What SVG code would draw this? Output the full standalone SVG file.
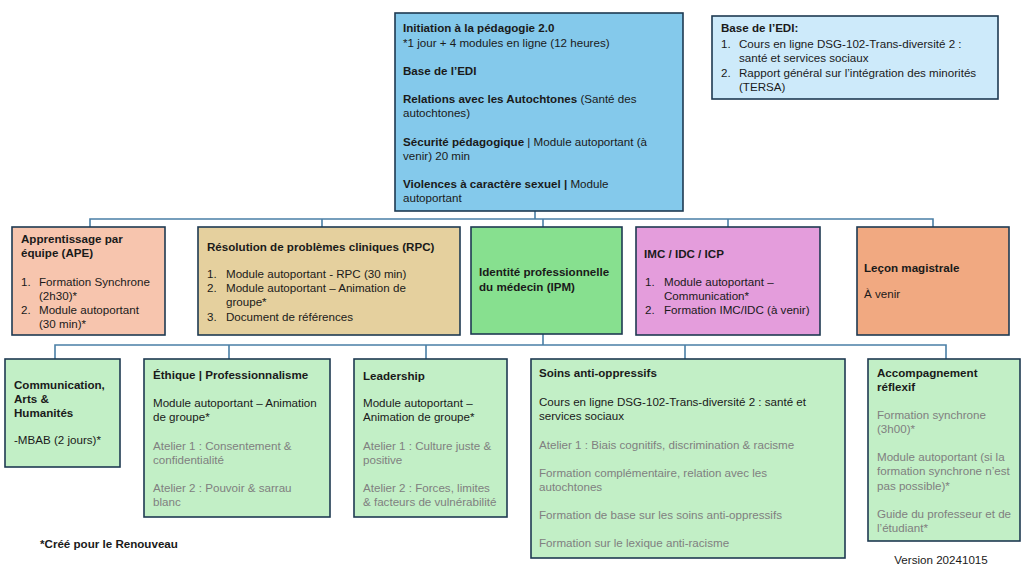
<svg xmlns="http://www.w3.org/2000/svg" width="1024" height="575" viewBox="0 0 1024 575">
<style>
text{font-family:"Liberation Sans",Arial,sans-serif;font-size:11.6px;fill:#1a1a1a}
.b{font-weight:bold}
.g{fill:#808080}
.box{stroke:#1e3a52;stroke-width:1.6}
.conn{fill:none;stroke:#4a7fa6;stroke-width:1.6}
</style>
<rect width="1024" height="575" fill="#ffffff"/>
<g id="connectors">
<path class="conn" d="M535 211V219M90 227V219H933V227M322 219V227M543 219V227M728 219V227"/>
<path class="conn" d="M543 334V345M55 359V345H946V359M229 345V359M426 345V359M685 345V359"/>
</g>
<g id="n-initiation">
<rect class="box" x="395" y="13" width="288" height="198" fill="#84c9eb"/>
<text x="403" y="32" class="b">Initiation à la pédagogie 2.0</text>
<text x="403" y="47">*1 jour + 4 modules en ligne (12 heures)</text>
<text x="403" y="75" class="b">Base de l’EDI</text>
<text x="403" y="103"><tspan class="b">Relations avec les Autochtones</tspan> (Santé des</text>
<text x="403" y="117">autochtones)</text>
<text x="403" y="146"><tspan class="b">Sécurité pédagogique</tspan> | Module autoportant (à</text>
<text x="403" y="160">venir) 20 min</text>
<text x="403" y="188"><tspan class="b">Violences à caractère sexuel |</tspan> Module</text>
<text x="403" y="202">autoportant</text>
</g>
<g id="n-edi">
<rect class="box" x="712" y="16" width="286" height="83" fill="#cdeafa"/>
<text x="721" y="32" class="b">Base de l’EDI:</text>
<text x="721" y="48">1.</text><text x="739" y="48">Cours en ligne DSG-102-Trans-diversité 2 :</text>
<text x="739" y="62">santé et services sociaux</text>
<text x="721" y="77">2.</text><text x="739" y="77">Rapport général sur l’intégration des minorités</text>
<text x="739" y="91">(TERSA)</text>
</g>
<g id="n-ape">
<rect class="box" x="12" y="227" width="153" height="108" fill="#f7c5ae"/>
<text x="21" y="243" class="b">Apprentissage par</text>
<text x="21" y="257" class="b">équipe (APE)</text>
<text x="21" y="286">1.</text><text x="39" y="286">Formation Synchrone</text>
<text x="39" y="300">(2h30)*</text>
<text x="21" y="314">2.</text><text x="39" y="314">Module autoportant</text>
<text x="39" y="328">(30 min)*</text>
</g>
<g id="n-rpc">
<rect class="box" x="198" y="227" width="262" height="108" fill="#e5d09e"/>
<text x="207" y="251" class="b">Résolution de problèmes cliniques (RPC)</text>
<text x="207" y="278">1.</text><text x="226" y="278">Module autoportant - RPC (30 min)</text>
<text x="207" y="292">2.</text><text x="226" y="292">Module autoportant – Animation de</text>
<text x="226" y="306">groupe*</text>
<text x="207" y="321">3.</text><text x="226" y="321">Document de références</text>
</g>
<g id="n-ipm">
<rect class="box" x="471" y="227" width="151" height="107" fill="#87e08f"/>
<text x="479" y="276" class="b">Identité professionnelle</text>
<text x="479" y="291" class="b">du médecin (IPM)</text>
</g>
<g id="n-imc">
<rect class="box" x="636" y="227" width="184" height="108" fill="#e49ddc"/>
<text x="644" y="258" class="b">IMC / IDC / ICP</text>
<text x="645" y="286">1.</text><text x="664" y="286">Module autoportant –</text>
<text x="664" y="300">Communication*</text>
<text x="645" y="314">2.</text><text x="664" y="314">Formation IMC/IDC (à venir)</text>
</g>
<g id="n-lecon">
<rect class="box" x="857" y="227" width="152" height="108" fill="#f1a981"/>
<text x="864" y="272" class="b">Leçon magistrale</text>
<text x="864" y="298">À venir</text>
</g>
<g id="n-comm">
<rect class="box" x="5" y="359" width="115" height="108" fill="#c2efc6"/>
<text x="14" y="389" class="b">Communication,</text>
<text x="14" y="403" class="b">Arts &amp;</text>
<text x="14" y="417" class="b">Humanités</text>
<text x="14" y="444">-MBAB (2 jours)*</text>
</g>
<g id="n-ethique">
<rect class="box" x="144" y="359" width="186" height="158" fill="#c2efc6"/>
<text x="153" y="379" class="b">Éthique | Professionnalisme</text>
<text x="153" y="407">Module autoportant – Animation</text>
<text x="153" y="421">de groupe*</text>
<text x="153" y="450" class="g">Atelier 1 : Consentement &amp;</text>
<text x="153" y="464" class="g">confidentialité</text>
<text x="153" y="492" class="g">Atelier 2 : Pouvoir &amp; sarrau</text>
<text x="153" y="506" class="g">blanc</text>
</g>
<g id="n-leadership">
<rect class="box" x="354" y="359" width="153" height="158" fill="#c2efc6"/>
<text x="363" y="380" class="b">Leadership</text>
<text x="363" y="407">Module autoportant –</text>
<text x="363" y="421">Animation de groupe*</text>
<text x="363" y="450" class="g">Atelier 1 : Culture juste &amp;</text>
<text x="363" y="464" class="g">positive</text>
<text x="363" y="492" class="g">Atelier 2 : Forces, limites</text>
<text x="363" y="506" class="g">&amp; facteurs de vulnérabilité</text>
</g>
<g id="n-soins">
<rect class="box" x="531" y="359" width="314" height="199" fill="#c2efc6"/>
<text x="539" y="377" class="b">Soins anti-oppressifs</text>
<text x="539" y="406">Cours en ligne DSG-102-Trans-diversité 2 : santé et</text>
<text x="539" y="420">services sociaux</text>
<text x="539" y="449" class="g">Atelier 1 : Biais cognitifs, discrimination &amp; racisme</text>
<text x="539" y="477" class="g">Formation complémentaire, relation avec les</text>
<text x="539" y="491" class="g">autochtones</text>
<text x="539" y="519" class="g">Formation de base sur les soins anti-oppressifs</text>
<text x="539" y="547" class="g">Formation sur le lexique anti-racisme</text>
</g>
<g id="n-accompagnement">
<rect class="box" x="868" y="359" width="152" height="182" fill="#c2efc6"/>
<text x="877" y="377" class="b">Accompagnement</text>
<text x="877" y="391" class="b">réflexif</text>
<text x="877" y="419" class="g">Formation synchrone</text>
<text x="877" y="433" class="g">(3h00)*</text>
<text x="877" y="461" class="g">Module autoportant (si la</text>
<text x="877" y="475" class="g">formation synchrone n’est</text>
<text x="877" y="490" class="g">pas possible)*</text>
<text x="877" y="518" class="g">Guide du professeur et de</text>
<text x="877" y="532" class="g">l’étudiant*</text>
</g>
<text x="40" y="548" class="b">*Créé pour le Renouveau</text>
<text x="941" y="564" text-anchor="middle">Version 20241015</text>
</svg>
